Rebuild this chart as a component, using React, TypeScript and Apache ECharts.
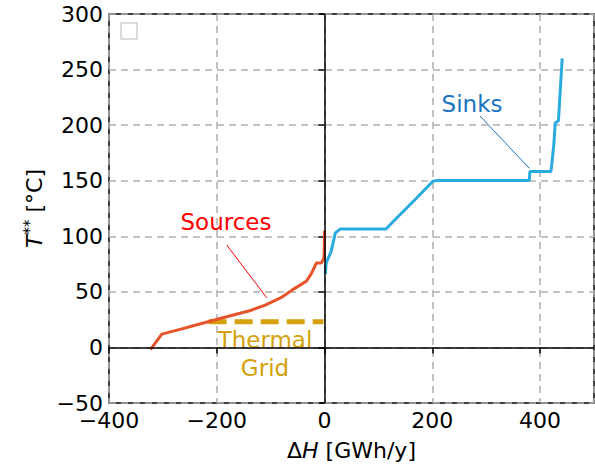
import React, { useEffect, useRef } from "react";
import * as echarts from "echarts";

const sourcesX = [-323, -302, -270, -240, -194, -139, -110, -80, -59, -34, -25, -15, -6, -1.5, -0.8, 0];
const sourcesY = [-2, 12, 16, 20, 26, 33, 38, 45, 52, 59.5, 66, 76, 76, 80, 84, 105];

const sinksX = [1.5, 3, 12, 20, 29, 114, 133, 170, 201, 210, 380, 381, 420, 421.5, 425.5, 427.5, 428, 434, 441];
const sinksY = [66, 76, 86, 103, 106.5, 106.5, 116, 134, 149.5, 150.3, 150.3, 158.3, 158.3, 164, 183, 198, 202, 204, 260];

const gridX = [-215, -2];
const gridY = [23, 23];

const xTicks = { min: -400, max: 500, interval: 200 };
const yTicks = { min: -50, max: 300, interval: 50 };

const FONT = "DejaVu Sans";
const minus = (v: number) => String(v).replace("-", "\u2212");

export default function App() {
  const ref = useRef<HTMLDivElement>(null);
  useEffect(() => {
    if (!ref.current) return;
    const chart = echarts.init(ref.current, undefined, { renderer: "svg" });
    const zip = (xs: number[], ys: number[]) => xs.map((x, i) => [x, ys[i]]);
    const gridLine = { show: true, lineStyle: { color: "#b0b0b0", width: 1.5, type: [7, 5] as any } };
    chart.setOption({
      animation: false,
      backgroundColor: "#fff",
      textStyle: { fontFamily: FONT },
      grid: { left: 109, right: 1, top: 14, bottom: 60, show: true, borderColor: "#000", borderWidth: 1.5, backgroundColor: "transparent" },
      xAxis: {
        type: "value",
        min: xTicks.min,
        max: xTicks.max,
        interval: xTicks.interval,
        axisLine: { show: false },
        axisTick: { show: true, length: 6, lineStyle: { color: "#000", width: 1.5 } },
        axisLabel: { color: "#000", fontSize: 22, fontFamily: FONT, margin: 6, showMaxLabel: false, formatter: (v: number) => minus(v) },
        splitLine: gridLine,
        name: "{d|\u0394}{i|H}{d| [GWh/y]}",
        nameLocation: "middle",
        nameGap: 36,
        nameTextStyle: {
          rich: {
            d: { fontSize: 22, fontFamily: FONT, color: "#000" },
            i: { fontSize: 22, fontFamily: FONT, fontStyle: "italic", color: "#000" },
          },
        },
      },
      yAxis: {
        type: "value",
        min: yTicks.min,
        max: yTicks.max,
        interval: yTicks.interval,
        axisLine: { show: false },
        axisTick: { show: true, length: 6, lineStyle: { color: "#000", width: 1.5 } },
        axisLabel: { color: "#000", fontSize: 22, fontFamily: FONT, margin: 6, formatter: (v: number) => minus(v) },
        splitLine: gridLine,
        name: "{i|T}{s|**}{d| [\u00b0C]}",
        nameLocation: "middle",
        nameRotate: 90,
        nameGap: 62,
        nameTextStyle: {
          rich: {
            d: { fontSize: 22, fontFamily: FONT, color: "#000" },
            i: { fontSize: 22, fontFamily: FONT, fontStyle: "italic", color: "#000" },
            s: { fontSize: 15, fontFamily: FONT, color: "#000", verticalAlign: "top", padding: [0, 0, 10, 0] },
          },
        },
      },
      series: [
        {
          name: "zero",
          type: "line",
          data: [],
          silent: true,
          markLine: {
            symbol: "none",
            silent: true,
            label: { show: false },
            lineStyle: { color: "#000", width: 1.5, type: "solid" },
            data: [{ xAxis: 0 }, { yAxis: 0 }],
          },
        },
        {
          name: "Thermal Grid",
          type: "line",
          data: zip(gridX, gridY),
          showSymbol: false,
          lineStyle: { color: "#D4A10B", width: 5, type: [18, 8] as any },
        },
        {
          name: "Sources",
          type: "line",
          data: zip(sourcesX, sourcesY),
          showSymbol: false,
          lineStyle: { color: "#E8532A", width: 3 },
        },
        {
          name: "Sinks",
          type: "line",
          data: zip(sinksX, sinksY),
          showSymbol: false,
          lineStyle: { color: "#2AABE0", width: 3 },
        },
      ],
      graphic: [
        { type: "rect", shape: { x: 121, y: 23, width: 16, height: 16 }, style: { fill: "#fff", stroke: "#d0d0d0", lineWidth: 1.5 } },
        { type: "text", x: 226, y: 222, style: { text: "Sources", fill: "#FF0000", font: `23px '${FONT}'`, align: "center", verticalAlign: "middle" } },
        { type: "line", shape: { x1: 226.7, y1: 245, x2: 266.7, y2: 297.7 }, style: { stroke: "#FF0000", lineWidth: 1 } },
        { type: "text", x: 472, y: 104, style: { text: "Sinks", fill: "#1A73C0", font: `23px '${FONT}'`, align: "center", verticalAlign: "middle" } },
        { type: "line", shape: { x1: 480, y1: 116, x2: 529.3, y2: 168.3 }, style: { stroke: "#1A73C0", lineWidth: 1 } },
        { type: "text", x: 265, y: 340, style: { text: "Thermal", fill: "#D4A10B", font: `23px '${FONT}'`, align: "center", verticalAlign: "middle" } },
        { type: "text", x: 265, y: 368, style: { text: "Grid", fill: "#D4A10B", font: `23px '${FONT}'`, align: "center", verticalAlign: "middle" } },
      ],
    });
    return () => chart.dispose();
  }, []);
  return <div ref={ref} style={{ width: 595, height: 466, position: "absolute", left: 0, top: 0 }} />;
}
